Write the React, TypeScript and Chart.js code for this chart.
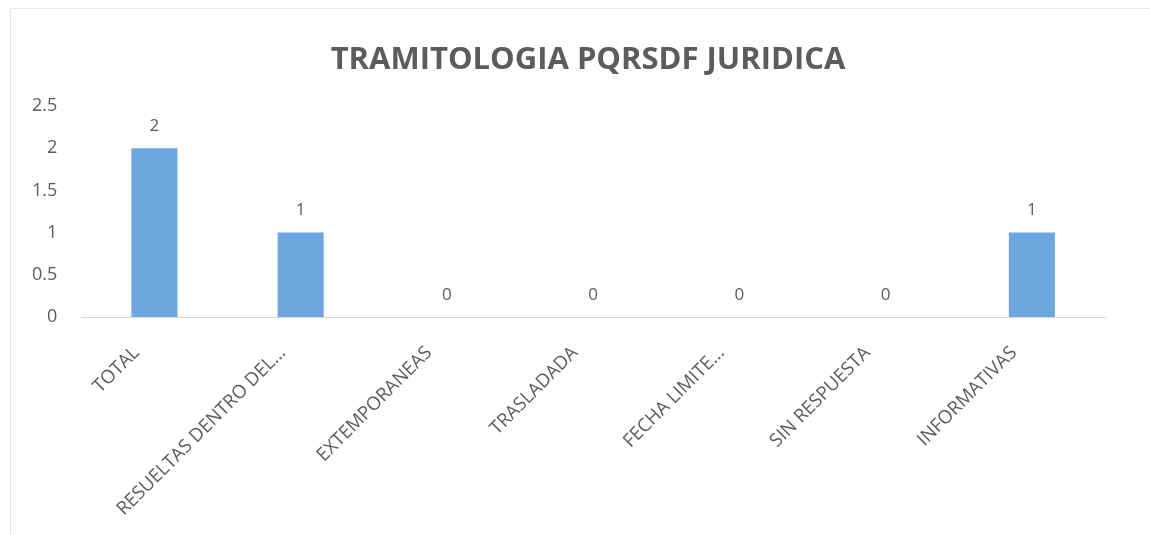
import React, { useEffect, useRef } from "react";
import { Chart, registerables } from "chart.js";

Chart.register(...registerables);

const categories = [
  "TOTAL",
  "RESUELTAS DENTRO DEL...",
  "EXTEMPORANEAS",
  "TRASLADADA",
  "FECHA LIMITE...",
  "SIN RESPUESTA",
  "INFORMATIVAS",
];
const values = [2, 1, 0, 0, 0, 0, 1];
const yTicks = [0, 0.5, 1, 1.5, 2, 2.5];
const chartTitle = "TRAMITOLOGIA PQRSDF JURIDICA";

const FONT = "'Open Sans', 'DejaVu Sans', sans-serif";
const TEXT = "#5c5c5c";

const valueLabels = {
  id: "valueLabels",
  afterDatasetsDraw(chart: any) {
    const ctx = chart.ctx;
    const meta = chart.getDatasetMeta(0);
    ctx.save();
    ctx.font = `17px ${FONT}`;
    ctx.fillStyle = TEXT;
    ctx.textAlign = "center";
    ctx.textBaseline = "middle";
    meta.data.forEach((bar: any, i: number) => {
      ctx.fillText(String(values[i]), bar.x, bar.y - 22);
    });
    ctx.restore();
  },
};

const offsetTitle = {
  id: "offsetTitle",
  afterDraw(chart: any) {
    const ctx = chart.ctx;
    ctx.save();
    ctx.font = `bold 31px ${FONT}`;
    ctx.fillStyle = TEXT;
    ctx.textAlign = "center";
    ctx.textBaseline = "middle";
    ctx.fillText(chartTitle, 588, 60);
    ctx.restore();
  },
};

export default function App() {
  const ref = useRef<HTMLCanvasElement | null>(null);
  useEffect(() => {
    if (!ref.current) return;
    const chart = new Chart(ref.current, {
      type: "bar",
      data: {
        labels: categories,
        datasets: [
          {
            data: values,
            backgroundColor: "#6ea6df",
            barPercentage: 0.63,
            categoryPercentage: 0.5,
          },
        ],
      },
      options: {
        animation: false,
        responsive: true,
        maintainAspectRatio: false,
        layout: { padding: { left: 16, right: 45, top: 106, bottom: 7 } },
        plugins: {
          legend: { display: false },
          tooltip: { enabled: false },
          title: { display: false },
        },
        scales: {
          x: {
            grid: { display: false },
            border: { display: true, color: "#d6d6d6", width: 1 },
            ticks: {
              color: TEXT,
              font: { family: FONT, size: 18.6 },
              minRotation: 45,
              maxRotation: 45,
              autoSkip: false,
              padding: 17,
              labelOffset: -18,
            },
          },
          y: {
            min: 0,
            max: 2.5,
            afterBuildTicks(scale: any) {
              scale.ticks = yTicks.map((v) => ({ value: v }));
            },
            grid: { display: false },
            border: { display: false },
            ticks: {
              color: TEXT,
              font: { family: FONT, size: 18 },
              padding: 16,
              callback: (v: any) => String(v),
            },
          },
        },
      },
      plugins: [valueLabels, offsetTitle],
    });
    return () => chart.destroy();
  }, []);
  return (
    <div
      style={{
        position: "fixed",
        left: 0,
        top: 0,
        width: 1150,
        height: 535,
        background: "#ffffff",
      }}
    >
      <div
        style={{
          position: "absolute",
          left: 10,
          top: 8,
          width: 1160,
          height: 560,
          border: "1px solid #e6e6e6",
        }}
      />
      <canvas ref={ref} style={{ position: "relative" }} />
    </div>
  );
}
